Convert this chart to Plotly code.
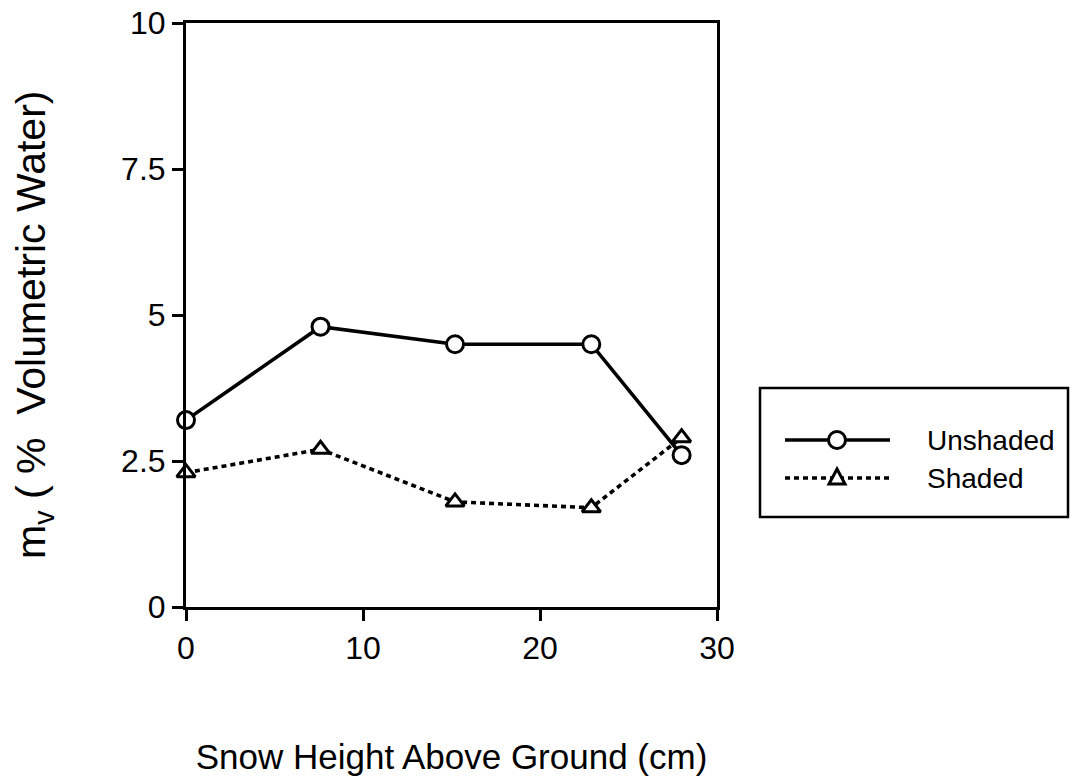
import plotly.graph_objects as go

# ---- data ----
snow_height_cm = [0, 7.6, 15.2, 22.9, 28.0]
unshaded_mv = [3.2, 4.8, 4.5, 4.5, 2.6]
shaded_mv = [2.3, 2.7, 1.8, 1.7, 2.9]
x_ticks = [0, 10, 20, 30]
y_ticks = [0, 2.5, 5, 7.5, 10]
y_ticklabels = ["0", "2.5", "5", "7.5", "10"]
series_names = ["Unshaded", "Shaded"]
x_title = "Snow Height Above Ground (cm)"
y_title = "m<sub>v</sub> (\u00a0%\u00a0\u00a0Volumetric Water)"

FONT = "Liberation Sans, Arial, Helvetica, sans-serif"
W, H = 1072, 776
ML, MR, MT, MB = 186, 355, 23, 169
PW, PH = W - ML - MR, H - MT - MB


def px2x(px):
    return (px - ML) / PW


def py2y(py):
    return (H - MB - py) / PH


fig = go.Figure()
fig.add_trace(go.Scatter(
    x=snow_height_cm, y=unshaded_mv, mode="lines+markers", name=series_names[0],
    line=dict(color="black", width=3.6),
    marker=dict(symbol="circle", size=17, color="white", line=dict(color="black", width=3)),
    cliponaxis=False, showlegend=False))
fig.add_trace(go.Scatter(
    x=snow_height_cm, y=shaded_mv, mode="lines+markers", name=series_names[1],
    line=dict(color="black", width=3.6, dash="5px,4px"),
    marker=dict(symbol="triangle-up", size=16, color="white", line=dict(color="black", width=3)),
    cliponaxis=False, showlegend=False))

# ---- hand-drawn legend box (layout decoration) ----
shapes = []
shapes.append(dict(type="rect", xref="paper", yref="paper",
                   x0=px2x(760), x1=px2x(1068), y0=py2y(517), y1=py2y(388),
                   line=dict(color="black", width=2.5), fillcolor="white", layer="below"))
rows = [440, 478]
for row, dash in zip(rows, ["solid", "5px,4px"]):
    shapes.append(dict(type="line", xref="paper", yref="paper",
                       x0=px2x(785), x1=px2x(890), y0=py2y(row), y1=py2y(row),
                       line=dict(color="black", width=3.6, dash=dash)))
shapes.append(dict(type="circle", xref="paper", yref="paper",
                   xsizemode="pixel", ysizemode="pixel",
                   xanchor=px2x(837), yanchor=py2y(rows[0]),
                   x0=-8.5, x1=8.5, y0=-8.5, y1=8.5,
                   line=dict(color="black", width=3), fillcolor="white"))
shapes.append(dict(type="path", xref="paper", yref="paper",
                   xsizemode="pixel", ysizemode="pixel",
                   xanchor=px2x(837), yanchor=py2y(rows[1]),
                   path="M -8 -6 L 8 -6 L 0 9 Z",
                   line=dict(color="black", width=3), fillcolor="white"))

annotations = []
for row, name in zip(rows, series_names):
    annotations.append(dict(xref="paper", yref="paper", x=px2x(925), y=py2y(row),
                            xanchor="left", yanchor="middle", text=name, showarrow=False,
                            font=dict(family=FONT, size=28, color="black")))
annotations.append(dict(xref="paper", yref="paper", x=px2x(34), y=py2y(325),
                        xanchor="center", yanchor="middle", textangle=-90, text=y_title,
                        showarrow=False, font=dict(family=FONT, size=41, color="black")))

fig.update_layout(
    width=W, height=H,
    margin=dict(l=ML, r=MR, t=MT, b=MB, autoexpand=False),
    paper_bgcolor="white", plot_bgcolor="white",
    font=dict(family=FONT, color="black"),
    showlegend=False,
    shapes=shapes, annotations=annotations,
    xaxis=dict(range=[0, 30], tickvals=x_ticks, ticks="outside", ticklen=11, tickwidth=3,
               tickcolor="black", showline=True, linecolor="black", linewidth=3, mirror=True,
               showgrid=False, zeroline=False, tickfont=dict(size=32, family=FONT),
               title=dict(text=x_title, standoff=90,
                          font=dict(size=35, family=FONT))),
    yaxis=dict(range=[0, 10], tickvals=y_ticks, ticktext=y_ticklabels, ticks="outside",
               ticklen=11, tickwidth=3, tickcolor="black", showline=True, linecolor="black",
               linewidth=3, mirror=True, showgrid=False, zeroline=False,
               tickfont=dict(size=32, family=FONT)),
)

fig.write_html("out.html", config={"displayModeBar": False},
               post_script="document.body.style.margin='0';")
